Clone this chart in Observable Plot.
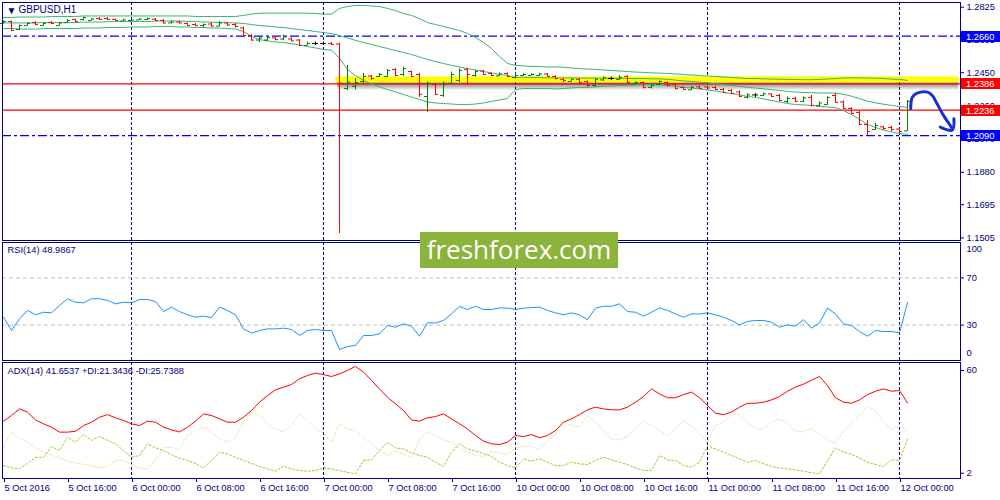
<!DOCTYPE html>
<html>
<head>
<meta charset="utf-8">
<script src="https://cdn.jsdelivr.net/npm/d3@7"></script>
<script src="https://cdn.jsdelivr.net/npm/@observablehq/plot@0.6"></script>
<style>
  html, body { margin: 0; padding: 0; background: #ffffff; }
  #chart { position: relative; width: 1000px; height: 500px; overflow: hidden; background: #ffffff; }
  #chart > svg { position: absolute; left: 0; }
  #logo { position: absolute; left: 420px; top: 232px; width: 198px; height: 36px; background: #8cb33b; color: #ffffff;
          font-family: "Open Sans", sans-serif; font-size: 26px; line-height: 35px; text-align: center; }
</style>
</head>
<body>
<div id="chart"></div>
<script>
// ---------------- DATA ----------------
const symbolTitle = "GBPUSD,H1";
const rsiTitle = "RSI(14) 48.9867";
const adxTitle = "ADX(14) 41.6537 +DI:21.3436 -DI:25.7388";

const timeLabels = ["5 Oct 2016","5 Oct 16:00","6 Oct 00:00","6 Oct 08:00","6 Oct 16:00","7 Oct 00:00","7 Oct 08:00","7 Oct 16:00","10 Oct 00:00","10 Oct 08:00","10 Oct 16:00","11 Oct 00:00","11 Oct 08:00","11 Oct 16:00","12 Oct 00:00"];
const timeLabelBars = [0,8,16,24,32,40,48,56,64,72,80,88,96,104,112];

const priceTicks = [1.2825, 1.2635, 1.2450, 1.2260, 1.2070, 1.1880, 1.1695, 1.1505];
const levelPrices = [1.2660, 1.2386, 1.2236, 1.2090];
const zone = {from: 41.55, to: 119.4, low: 1.2392, high: 1.2426};

const open = [1.2732,1.2743,1.2697,1.2720,1.2737,1.2720,1.2737,1.2720,1.2737,1.2755,1.2755,1.2749,1.2760,1.2760,1.2755,1.2746,1.2749,1.2752,1.2755,1.2757,1.2749,1.2735,1.2740,1.2732,1.2726,1.2720,1.2729,1.2717,1.2735,1.2726,1.2706,1.2663,1.2637,1.2637,1.2649,1.2643,1.2643,1.2637,1.2606,1.2617,1.2617,1.2617,1.2614,1.2360,1.2372,1.2400,1.2432,1.2429,1.2429,1.2469,1.2440,1.2457,1.2440,1.2314,1.2383,1.2320,1.2389,1.2406,1.2469,1.2434,1.2460,1.2446,1.2432,1.2446,1.2423,1.2434,1.2434,1.2434,1.2443,1.2429,1.2412,1.2400,1.2412,1.2400,1.2377,1.2409,1.2417,1.2412,1.2429,1.2386,1.2394,1.2366,1.2383,1.2394,1.2383,1.2366,1.2352,1.2369,1.2369,1.2366,1.2354,1.2349,1.2340,1.2309,1.2323,1.2320,1.2329,1.2320,1.2286,1.2303,1.2286,1.2309,1.2263,1.2268,1.2320,1.2283,1.2246,1.2223,1.2154,1.2125,1.2140,1.2137,1.2128,1.2117];
const high = [1.2746,1.2746,1.2723,1.2737,1.2743,1.2735,1.2743,1.2737,1.2755,1.2757,1.2769,1.2760,1.2766,1.2766,1.2757,1.2757,1.2757,1.2760,1.2763,1.2760,1.2755,1.2746,1.2746,1.2735,1.2732,1.2729,1.2737,1.2743,1.2737,1.2732,1.2712,1.2669,1.2655,1.2660,1.2655,1.2666,1.2649,1.2640,1.2626,1.2626,1.2626,1.2623,1.2620,1.2492,1.2417,1.2446,1.2434,1.2446,1.2469,1.2474,1.2483,1.2460,1.2446,1.2397,1.2389,1.2397,1.2454,1.2472,1.2474,1.2463,1.2463,1.2449,1.2449,1.2449,1.2446,1.2446,1.2446,1.2446,1.2446,1.2434,1.2417,1.2414,1.2417,1.2403,1.2417,1.2426,1.2426,1.2434,1.2434,1.2397,1.2397,1.2389,1.2403,1.2397,1.2389,1.2369,1.2372,1.2372,1.2372,1.2372,1.2360,1.2354,1.2346,1.2331,1.2331,1.2334,1.2331,1.2326,1.2312,1.2309,1.2312,1.2320,1.2283,1.2312,1.2331,1.2289,1.2251,1.2228,1.2177,1.2160,1.2143,1.2143,1.2131,1.2291];
const low = [1.2729,1.2686,1.2692,1.2717,1.2720,1.2717,1.2726,1.2717,1.2732,1.2735,1.2746,1.2746,1.2749,1.2752,1.2746,1.2743,1.2743,1.2749,1.2749,1.2746,1.2729,1.2729,1.2729,1.2715,1.2715,1.2706,1.2712,1.2712,1.2715,1.2706,1.2657,1.2632,1.2623,1.2629,1.2632,1.2632,1.2629,1.2603,1.2603,1.2606,1.2606,1.2609,1.1530,1.2349,1.2352,1.2386,1.2406,1.2423,1.2423,1.2429,1.2429,1.2423,1.2309,1.2223,1.2320,1.2309,1.2386,1.2394,1.2377,1.2426,1.2434,1.2429,1.2429,1.2426,1.2414,1.2429,1.2432,1.2429,1.2426,1.2409,1.2394,1.2397,1.2386,1.2366,1.2366,1.2400,1.2406,1.2406,1.2386,1.2383,1.2357,1.2357,1.2377,1.2369,1.2352,1.2349,1.2349,1.2357,1.2354,1.2352,1.2331,1.2329,1.2309,1.2300,1.2309,1.2314,1.2312,1.2286,1.2274,1.2280,1.2280,1.2254,1.2254,1.2263,1.2274,1.2240,1.2211,1.2148,1.2091,1.2120,1.2120,1.2111,1.2103,1.2114];
const close = [1.2743,1.2692,1.2720,1.2732,1.2726,1.2732,1.2732,1.2735,1.2749,1.2743,1.2766,1.2757,1.2755,1.2755,1.2749,1.2752,1.2752,1.2757,1.2760,1.2749,1.2735,1.2740,1.2735,1.2720,1.2720,1.2726,1.2717,1.2735,1.2723,1.2715,1.2663,1.2637,1.2649,1.2652,1.2640,1.2655,1.2632,1.2606,1.2617,1.2617,1.2617,1.2612,1.2390,1.2397,1.2394,1.2429,1.2417,1.2440,1.2463,1.2434,1.2474,1.2429,1.2326,1.2389,1.2326,1.2383,1.2440,1.2463,1.2440,1.2457,1.2440,1.2434,1.2443,1.2429,1.2434,1.2440,1.2440,1.2443,1.2429,1.2417,1.2406,1.2412,1.2394,1.2377,1.2412,1.2420,1.2417,1.2423,1.2394,1.2394,1.2366,1.2377,1.2400,1.2377,1.2360,1.2354,1.2366,1.2360,1.2363,1.2354,1.2337,1.2331,1.2314,1.2323,1.2323,1.2329,1.2314,1.2291,1.2303,1.2286,1.2306,1.2263,1.2277,1.2309,1.2280,1.2246,1.2217,1.2154,1.2114,1.2148,1.2131,1.2125,1.2114,1.2286];

const bbUpper = [1.2766,1.2766,1.2769,1.2769,1.2769,1.2769,1.2772,1.2772,1.2772,1.2772,1.2775,1.2775,1.2775,1.2775,1.2775,1.2775,1.2775,1.2775,1.2775,1.2775,1.2775,1.2775,1.2775,1.2775,1.2772,1.2772,1.2772,1.2772,1.2772,1.2772,1.2778,1.2786,1.2791,1.2791,1.2791,1.2791,1.2791,1.2791,1.2791,1.2789,1.2786,1.2785,1.2818,1.2829,1.2835,1.2835,1.2832,1.2829,1.2818,1.2806,1.2789,1.2778,1.2760,1.2737,1.2726,1.2715,1.2703,1.2692,1.2675,1.2652,1.2623,1.2589,1.2543,1.2503,1.2492,1.2489,1.2486,1.2486,1.2483,1.2483,1.2482,1.2477,1.2474,1.2471,1.2469,1.2466,1.2463,1.2460,1.2457,1.2454,1.2452,1.2449,1.2448,1.2446,1.2443,1.2440,1.2437,1.2434,1.2431,1.2429,1.2426,1.2423,1.2420,1.2417,1.2417,1.2415,1.2414,1.2413,1.2412,1.2412,1.2410,1.2410,1.2412,1.2414,1.2417,1.2420,1.2421,1.2421,1.2420,1.2419,1.2417,1.2414,1.2412,1.2406];
const bbMiddle = [1.2735,1.2735,1.2735,1.2735,1.2735,1.2737,1.2737,1.2737,1.2737,1.2737,1.2740,1.2740,1.2740,1.2743,1.2743,1.2743,1.2743,1.2743,1.2743,1.2746,1.2746,1.2746,1.2746,1.2743,1.2743,1.2740,1.2740,1.2737,1.2737,1.2735,1.2732,1.2726,1.2720,1.2717,1.2712,1.2709,1.2703,1.2697,1.2692,1.2686,1.2680,1.2674,1.2663,1.2649,1.2635,1.2623,1.2612,1.2600,1.2589,1.2577,1.2566,1.2554,1.2540,1.2526,1.2514,1.2503,1.2492,1.2483,1.2474,1.2466,1.2457,1.2449,1.2440,1.2434,1.2423,1.2424,1.2423,1.2423,1.2421,1.2420,1.2421,1.2420,1.2420,1.2419,1.2419,1.2419,1.2419,1.2419,1.2417,1.2417,1.2417,1.2415,1.2415,1.2412,1.2408,1.2403,1.2400,1.2396,1.2392,1.2387,1.2382,1.2377,1.2372,1.2366,1.2363,1.2358,1.2353,1.2349,1.2343,1.2340,1.2337,1.2336,1.2334,1.2334,1.2334,1.2327,1.2316,1.2302,1.2287,1.2278,1.2270,1.2263,1.2257,1.2251];
const bbLower = [1.2703,1.2703,1.2700,1.2700,1.2700,1.2703,1.2703,1.2703,1.2703,1.2703,1.2706,1.2706,1.2706,1.2709,1.2709,1.2709,1.2712,1.2712,1.2712,1.2715,1.2715,1.2715,1.2712,1.2712,1.2709,1.2709,1.2706,1.2706,1.2703,1.2700,1.2686,1.2657,1.2640,1.2632,1.2626,1.2623,1.2617,1.2609,1.2600,1.2592,1.2583,1.2580,1.2532,1.2469,1.2434,1.2406,1.2386,1.2369,1.2354,1.2340,1.2326,1.2311,1.2297,1.2283,1.2277,1.2274,1.2271,1.2268,1.2268,1.2271,1.2277,1.2286,1.2294,1.2303,1.2354,1.2360,1.2360,1.2360,1.2360,1.2357,1.2360,1.2363,1.2366,1.2366,1.2369,1.2372,1.2374,1.2377,1.2377,1.2380,1.2383,1.2383,1.2383,1.2377,1.2372,1.2366,1.2363,1.2357,1.2351,1.2346,1.2337,1.2331,1.2323,1.2314,1.2309,1.2300,1.2291,1.2283,1.2274,1.2268,1.2266,1.2263,1.2257,1.2254,1.2251,1.2234,1.2211,1.2183,1.2154,1.2137,1.2122,1.2111,1.2103,1.2097];

const rsi = [36.7,25.4,35.3,42.4,38.7,40.9,40.4,46.6,52.3,49.4,48.9,52.3,52.3,51.0,48.0,49.4,48.9,51.7,51.7,50.0,41.5,45.2,41.5,38.7,36.7,37.6,36.4,45.2,42.4,38.7,26.8,23.2,25.4,26.8,26.8,27.4,26.3,21.2,25.4,26.3,25.4,25.4,9.3,11.9,12.7,21.2,21.2,22.6,29.7,28.2,31.1,29.1,20.6,31.9,31.9,33.9,39.5,45.8,43.2,46.0,43.2,43.2,44.6,44.4,43.2,44.4,44.8,45.2,42.4,40.4,38.7,40.4,38.7,34.7,44.4,46.0,46.0,48.0,41.5,40.9,37.6,40.9,44.6,42.4,39.5,36.7,39.5,39.5,40.4,38.7,36.7,33.9,30.2,33.1,33.9,33.9,32.5,28.2,30.2,29.1,34.7,27.4,31.9,44.4,39.5,31.1,29.7,24.6,20.6,25.4,24.6,24.6,23.4,48.99];

const adx = [31.4,34.6,38.3,36.5,32.1,29.9,28.0,25.2,25.2,25.7,28.9,30.8,33.6,35.1,33.3,31.8,29.9,28.9,31.4,30.8,28.0,26.5,25.3,28.0,31.4,35.5,34.6,32.7,30.8,30.8,33.6,37.4,42.1,45.9,49.1,50.6,52.1,55.3,57.2,58.5,57.7,56.6,58.1,60.0,62.3,59.1,54.4,49.6,44.9,41.2,37.4,32.1,31.4,33.3,34.0,35.5,32.7,29.9,27.0,23.3,20.1,18.6,18.2,19.5,23.3,22.7,23.8,22.0,23.3,26.1,30.8,32.7,35.1,37.8,39.3,38.3,37.8,37.8,39.3,42.1,45.3,49.6,46.8,44.6,44.6,46.4,47.8,44.6,40.2,35.9,35.1,36.5,39.3,41.5,41.5,42.1,43.4,45.3,48.3,50.6,52.3,54.5,56.6,51.5,44.6,42.1,41.5,43.4,46.4,48.3,49.6,48.3,48.7,41.65];
const plusDI = [6.3,5.0,4.6,7.5,11.0,11.0,17.1,14.8,22.3,19.5,23.8,20.5,22.7,20.5,18.6,14.8,11.0,12.0,18.6,16.3,14.8,12.5,10.5,9.2,7.5,5.0,9.2,13.9,12.9,11.0,9.2,7.5,5.8,4.4,3.1,6.0,4.4,3.5,3.1,3.5,5.0,4.4,3.5,2.5,1.6,9.2,9.5,14.8,19.5,16.3,15.7,13.5,12.0,11.0,8.2,5.8,13.9,18.6,15.7,14.5,13.0,11.5,8.2,6.3,5.0,10.1,8.8,10.1,8.2,6.3,6.3,8.2,7.3,6.9,9.2,11.0,9.5,8.2,6.9,5.0,3.5,3.5,12.0,9.5,9.2,6.3,5.4,8.2,17.6,15.7,13.9,12.0,10.1,8.2,9.2,7.3,5.8,5.0,4.4,3.9,3.1,2.3,1.6,9.2,16.3,13.9,12.6,10.6,8.2,6.9,5.8,9.5,9.2,21.34];
const minusDI = [16.7,25.2,22.0,19.5,16.5,14.0,12.0,10.8,8.8,7.8,7.0,6.3,5.0,5.8,9.2,9.2,6.9,5.0,4.4,9.2,16.3,16.7,15.0,23.3,25.7,28.0,25.2,21.4,19.5,22.3,31.0,37.4,34.6,29.9,27.0,25.2,28.9,35.5,31.8,27.0,24.6,19.5,29.9,27.0,26.1,22.3,18.6,14.8,12.0,14.8,12.6,11.0,20.8,25.2,23.3,20.8,19.5,16.0,13.9,12.0,11.4,14.4,13.3,12.6,16.3,17.1,17.1,15.2,20.5,23.8,30.8,28.9,28.0,34.6,30.8,26.1,21.4,20.8,22.7,27.0,31.4,28.9,26.1,23.3,27.0,31.4,28.9,24.2,19.5,28.9,30.8,35.2,35.3,31.1,27.1,27.2,31.1,32.6,30.1,25.7,25.4,27.3,23.9,20.5,19.1,25.8,30.4,34.5,40.0,37.4,31.0,26.5,29.5,25.74];

// hand-drawn forecast arrow (bar index, price)
const arrowPath = [{i:113.4,p:1.2244},{i:113.6,p:1.2310},{i:114.2,p:1.2333},{i:115.5,p:1.2339},{i:116.1,p:1.2320},{i:116.7,p:1.2272},{i:117.5,p:1.2206},{i:118.2,p:1.2158},{i:118.6,p:1.2130}];
const arrowHead = [{i:117.1,p:1.2139},{i:118.6,p:1.2122},{i:118.8,p:1.2187}];

// ---------------- STYLE ----------------
const navy = "#000080";
const font = "'Liberation Sans', Arial, sans-serif";
const fs = 9.3;
const xDomain = [-0.125, 119.625];
const levelStyle = [
  {stroke: "#0000ff", dash: "9,3,3,3", box: "#0000ff"},
  {stroke: "#ff0000", dash: null, box: "#ff0000"},
  {stroke: "#ff0000", dash: null, box: "#ff0000"},
  {stroke: "#0000ff", dash: "9,3,3,3", box: "#0000ff"}
];
const separators = timeLabelBars.filter((b, k) => timeLabels[k].endsWith("00:00"));
const baseStyle = {fontFamily: font, fontSize: fs + "px", color: navy, background: "none", overflow: "visible"};

const bars = open.map((o, i) => ({i, o, h: high[i], l: low[i], c: close[i]}));
function ohlc(data, color) {
  return [
    Plot.ruleX(data, {x: "i", y1: "l", y2: "h", stroke: color}),
    Plot.ruleY(data, {y: "o", x1: d => d.i - 0.375, x2: "i", stroke: color}),
    Plot.ruleY(data, {y: "c", x1: "i", x2: d => d.i + 0.375, stroke: color})
  ];
}
const series = arr => arr.map((v, i) => ({i, v}));

const defsMark = () => {
  const defs = d3.create("svg:defs");
  const g = defs.append("linearGradient").attr("id", "zoneShadow").attr("x1", 0).attr("y1", 0).attr("x2", 0).attr("y2", 1);
  g.append("stop").attr("offset", "0%").attr("stop-color", "#000").attr("stop-opacity", 0.55);
  g.append("stop").attr("offset", "100%").attr("stop-color", "#000").attr("stop-opacity", 0);
  return defs.node();
};
const levelBoxes = (index, scales, values, dims) => {
  const g = d3.create("svg:g").attr("font-family", font).attr("font-size", fs).attr("text-anchor", "start");
  const x0 = dims.width - dims.marginRight;
  levelPrices.forEach((p, k) => {
    const y = Math.round(scales.y(p));
    g.append("rect").attr("x", x0 + 1).attr("y", y - 5).attr("width", dims.marginRight).attr("height", 11).attr("fill", levelStyle[k].box);
    g.append("text").attr("x", x0 + 6).attr("y", y + 0.5).attr("dy", "0.35em").attr("text-anchor", "start").attr("fill", "#ffffff").text(d3.format(".4f")(p));
  });
  return g.node();
};

// ---------------- MAIN PANE ----------------
const main = Plot.plot({
  width: 1000, height: 242, marginTop: 2, marginBottom: 2, marginLeft: 2, marginRight: 40,
  x: {domain: xDomain, axis: null},
  y: {domain: [1.1490, 1.2852], axis: null},
  style: baseStyle,
  marks: [
    defsMark,
    Plot.ruleX(separators, {stroke: navy, strokeDasharray: "3,2"}),
    Plot.rect([zone], {x1: d => d.from + 0.2, x2: "to", y1: d => d.low - 0.0045, y2: "low", fill: "url(#zoneShadow)"}),
    Plot.rect([zone], {x1: "from", x2: "to", y1: "low", y2: "high", fill: "#ffff00"}),
    ...levelPrices.map((p, k) => Plot.ruleY([p], {stroke: levelStyle[k].stroke, strokeDasharray: levelStyle[k].dash, strokeWidth: 1.2})),
    Plot.line(series(bbUpper), {x: "i", y: "v", stroke: "#3cb371", strokeWidth: 1}),
    Plot.line(series(bbMiddle), {x: "i", y: "v", stroke: "#3cb371", strokeWidth: 1}),
    Plot.line(series(bbLower), {x: "i", y: "v", stroke: "#3cb371", strokeWidth: 1}),
    ...ohlc(bars.filter(d => d.c > d.o), "#008000"),
    ...ohlc(bars.filter(d => d.c < d.o), "#ff0000"),
    ...ohlc(bars.filter(d => d.c === d.o), "#000000"),
    Plot.line(arrowPath, {x: "i", y: "p", stroke: "#1b2fd0", strokeWidth: 3, curve: "catmull-rom"}),
    Plot.line(arrowHead, {x: "i", y: "p", stroke: "#1b2fd0", strokeWidth: 3, curve: "catmull-rom"}),
    Plot.frame({stroke: navy}),
    Plot.axisY(priceTicks, {anchor: "right", tickSize: 3, tickPadding: 3, tickFormat: d3.format(".4f"), fontSize: fs, label: null}),
    levelBoxes,
    Plot.text(["\u25BC"], {text: d => d, frameAnchor: "top-left", dx: 4, dy: 4, lineAnchor: "top", textAnchor: "start", fontSize: 10, fill: navy}),
    Plot.text([symbolTitle], {text: d => d, frameAnchor: "top-left", dx: 16, dy: 3, lineAnchor: "top", textAnchor: "start", fontSize: 10, fill: navy})
  ]
});

// ---------------- RSI PANE ----------------
const rsiPlot = Plot.plot({
  width: 1000, height: 122, marginTop: 2, marginBottom: 2, marginLeft: 2, marginRight: 40,
  x: {domain: xDomain, axis: null},
  y: {domain: [0, 100], axis: null},
  style: baseStyle,
  marks: [
    Plot.ruleX(separators, {stroke: navy, strokeDasharray: "3,2"}),
    Plot.ruleY([70, 30], {stroke: "#c0c0c0", strokeDasharray: "4,3"}),
    Plot.line(series(rsi), {x: "i", y: "v", stroke: "#1e90ff", strokeWidth: 1}),
    Plot.frame({stroke: navy}),
    Plot.axisY([70, 30], {anchor: "right", tickSize: 3, tickPadding: 3, fontSize: fs, label: null}),
    Plot.text([100], {y: d => d, text: d => d, frameAnchor: "right", dx: 6, dy: 7, textAnchor: "start", fontSize: fs, fill: navy}),
    Plot.text([0], {y: d => d, text: d => d, frameAnchor: "right", dx: 6, dy: -7, textAnchor: "start", fontSize: fs, fill: navy}),
    Plot.text([rsiTitle], {text: d => d, frameAnchor: "top-left", dx: 5, dy: 4, lineAnchor: "top", textAnchor: "start", fontSize: fs, fill: navy})
  ]
});

// ---------------- ADX PANE ----------------
const adxPlot = Plot.plot({
  width: 1000, height: 140, marginTop: 2, marginBottom: 22, marginLeft: 2, marginRight: 40,
  x: {domain: xDomain},
  y: {domain: [-0.99, 64.52], axis: null},
  style: baseStyle,
  marks: [
    Plot.ruleX(separators, {stroke: navy, strokeDasharray: "3,2"}),
    Plot.line(series(minusDI), {x: "i", y: "v", stroke: "#f5deb3", strokeWidth: 1, strokeDasharray: "2,2"}),
    Plot.line(series(plusDI), {x: "i", y: "v", stroke: "#9acd32", strokeWidth: 1, strokeDasharray: "2,2"}),
    Plot.line(series(adx), {x: "i", y: "v", stroke: "#ff0000", strokeWidth: 1}),
    Plot.frame({stroke: navy}),
    Plot.axisY([60, 2], {anchor: "right", tickSize: 3, tickPadding: 3, fontSize: fs, label: null}),
    Plot.axisX(timeLabelBars, {anchor: "bottom", tickSize: 4, tickPadding: 2, textAnchor: "start", dx: 1, fontSize: fs, label: null,
      tickFormat: d => timeLabels[timeLabelBars.indexOf(d)]}),
    Plot.text([adxTitle], {text: d => d, frameAnchor: "top-left", dx: 5, dy: 5, lineAnchor: "top", textAnchor: "start", fontSize: fs, fill: navy})
  ]
});

const chart = document.getElementById("chart");
[[main, 0], [rsiPlot, 240], [adxPlot, 360]].forEach(([svg, top]) => {
  svg.style.position = "absolute";
  svg.style.top = top + "px";
  svg.style.left = "0px";
  chart.appendChild(svg);
});
const logo = document.createElement("div");
logo.id = "logo";
logo.textContent = "freshforex.com";
chart.appendChild(logo);
</script>
</body>
</html>
